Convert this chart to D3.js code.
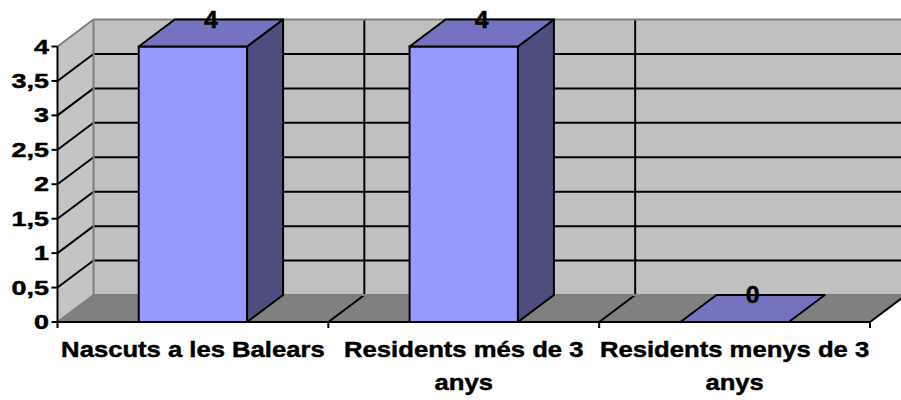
<!DOCTYPE html>
<html>
<head>
<meta charset="utf-8">
<script src="https://cdn.jsdelivr.net/npm/d3@7"></script>
<style>
  html, body { margin: 0; padding: 0; background: #fff; }
  svg { display: block; }
  text { font-family: "Liberation Sans", Arial, sans-serif; font-weight: bold; fill: #000; stroke: #000; stroke-width: 0.45px; }
</style>
</head>
<body>
<svg id="chart" width="901" height="400"></svg>
<script>
// ---- data ----
const categories = ["Nascuts a les Balears", "Residents més de 3 anys", "Residents menys de 3 anys"];
const values = [4, 4, 0];
const yTickValues = [0, 0.5, 1, 1.5, 2, 2.5, 3, 3.5, 4];
const yTickLabels = ["0", "0,5", "1", "1,5", "2", "2,5", "3", "3,5", "4"];
const gridValues = [0.5, 1, 1.5, 2, 2.5, 3, 3.5];

// ---- layout ----
const svg = d3.select("#chart");
const DX = 36, DY = -27;
const x = d3.scaleBand().domain(categories).range([57.5, 870]).paddingInner(0.6).paddingOuter(0.3);
const y = d3.scaleLinear().domain([0, 4]).range([322, 46.5]);
const x0 = x.range()[0], x1 = x.range()[1];
const step = x.step();
const bounds = d3.range(categories.length + 1).map(i => x0 + i * step);
const yB = v => y(v) + DY;

const WALL = "#c0c0c0", SIDEWALL = "#c4c4c4", FLOOR = "#808080", EDGE = "#7f7f7f";
const FRONT = "#9999ff", TOP = "#7373bf", SIDE = "#4d4d80";
const line = d3.line();

// back wall
svg.append("rect").attr("x", x0 + DX).attr("y", yB(4)).attr("width", x1 - x0 + 10)
  .attr("height", y(0) - y(4)).attr("fill", WALL);
// side wall
svg.append("path").attr("d", line([[x0, y(4)], [x0 + DX, yB(4)], [x0 + DX, yB(0)], [x0, y(0)]]) + "Z")
  .attr("fill", SIDEWALL);
// floor
svg.append("path").attr("d", line([[x0, y(0)], [x0 + DX, yB(0)], [x1 + DX, yB(0)], [x1, y(0)]]) + "Z")
  .attr("fill", FLOOR);

// back wall horizontal gridlines
svg.selectAll(".hgrid").data(gridValues).enter().append("line")
  .attr("x1", x0 + DX).attr("x2", x1 + DX + 10).attr("y1", d => yB(d)).attr("y2", d => yB(d))
  .attr("stroke", "#000").attr("stroke-width", 2);
// side wall diagonals
svg.selectAll(".sgrid").data(gridValues).enter().append("line")
  .attr("x1", x0).attr("y1", d => y(d)).attr("x2", x0 + DX).attr("y2", d => yB(d))
  .attr("stroke", "#000").attr("stroke-width", 2);
// back wall vertical gridlines
svg.selectAll(".vgrid").data(bounds.slice(1, -1)).enter().append("line")
  .attr("x1", d => d + DX).attr("x2", d => d + DX).attr("y1", yB(4)).attr("y2", yB(0))
  .attr("stroke", "#000").attr("stroke-width", 2);
// floor diagonals
svg.selectAll(".fgrid").data(bounds.slice(1)).enter().append("line")
  .attr("x1", d => d).attr("y1", y(0)).attr("x2", d => d + DX).attr("y2", yB(0))
  .attr("stroke", "#000").attr("stroke-width", 2);

// wall edges (gray)
const edges = [
  [[x0, y(4)], [x0 + DX, yB(4)]],
  [[x0 + DX, yB(4)], [x1 + DX + 10, yB(4)]],
  [[x0 + DX, yB(4)], [x0 + DX, yB(0)]],
  [[x0, y(0)], [x0 + DX, yB(0)]],
  [[x0 + DX, yB(0)], [x1 + DX + 10, yB(0)]]
];
svg.selectAll(".edge").data(edges).enter().append("path")
  .attr("d", d => line(d)).attr("stroke", EDGE).attr("stroke-width", 2).attr("fill", "none");

// axes
svg.append("line").attr("x1", x0).attr("x2", x0).attr("y1", y(4)).attr("y2", y(0) + 1)
  .attr("stroke", "#000").attr("stroke-width", 2);
svg.append("line").attr("x1", x0 - 1).attr("x2", x1).attr("y1", y(0)).attr("y2", y(0))
  .attr("stroke", "#000").attr("stroke-width", 2);
svg.selectAll(".ytick").data(yTickValues).enter().append("line")
  .attr("x1", x0 - 6).attr("x2", x0).attr("y1", d => y(d)).attr("y2", d => y(d))
  .attr("stroke", "#000").attr("stroke-width", 2);
svg.selectAll(".xtick").data(bounds).enter().append("line")
  .attr("x1", d => d).attr("x2", d => d).attr("y1", y(0)).attr("y2", y(0) + 6)
  .attr("stroke", "#000").attr("stroke-width", 2);

// y labels
svg.selectAll(".ylab").data(yTickValues).enter().append("text")
  .attr("transform", d => `translate(49,${y(d) + 7}) scale(1.38,1)`)
  .attr("text-anchor", "end").attr("font-size", 19.5)
  .text((d, i) => yTickLabels[i]);

// bars
const bars = svg.selectAll(".bar").data(categories.map((c, i) => ({ c, v: values[i] })))
  .enter().append("g");
const bw = x.bandwidth();
bars.filter(d => d.v > 0).append("rect")
  .attr("x", d => x(d.c)).attr("y", d => y(d.v)).attr("width", bw).attr("height", d => y(0) - y(d.v))
  .attr("fill", FRONT).attr("stroke", "#000").attr("stroke-width", 2);
bars.filter(d => d.v > 0).append("path")
  .attr("d", d => line([[x(d.c) + bw, y(d.v)], [x(d.c) + bw + DX, yB(d.v)], [x(d.c) + bw + DX, yB(0)], [x(d.c) + bw, y(0)]]) + "Z")
  .attr("fill", SIDE).attr("stroke", "#000").attr("stroke-width", 2).attr("stroke-linejoin", "round");
bars.append("path")
  .attr("d", d => line([[x(d.c), y(d.v)], [x(d.c) + DX, yB(d.v)], [x(d.c) + bw + DX, yB(d.v)], [x(d.c) + bw, y(d.v)]]) + "Z")
  .attr("fill", TOP).attr("stroke", "#000").attr("stroke-width", 2).attr("stroke-linejoin", "round");

// data labels
bars.append("text")
  .attr("transform", d => `translate(${x(d.c) + bw / 2 + DX / 2},${yB(d.v) + 8}) scale(1.08,1)`)
  .attr("text-anchor", "middle").attr("font-size", 23)
  .text(d => d.v);

// category labels with wrapping
const SX = 1.14, FS = 22.5;
categories.forEach(c => {
  const g = svg.append("g").attr("transform", `translate(${x(c) + bw / 2},357) scale(${SX},1)`);
  const t = g.append("text").attr("text-anchor", "middle").attr("font-size", FS);
  const words = c.split(" ");
  let lines = [], cur = [];
  const probe = svg.append("text").attr("font-size", FS);
  words.forEach(w => {
    const test = cur.concat([w]).join(" ");
    probe.text(test);
    if (cur.length && probe.node().getComputedTextLength() * SX > step + 4) {
      lines.push(cur.join(" "));
      cur = [w];
    } else cur.push(w);
  });
  lines.push(cur.join(" "));
  probe.remove();
  lines.forEach((l, i) => {
    t.append("tspan").attr("x", 0).attr("y", i * 33).text(l);
  });
});
</script>
</body>
</html>
